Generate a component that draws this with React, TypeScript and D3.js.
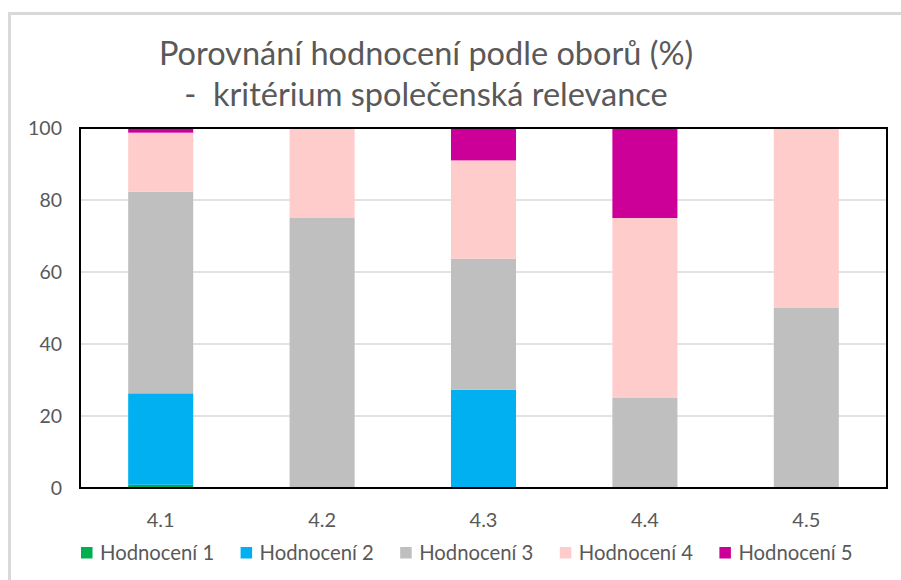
import React from "react";
import * as d3 from "d3";

const categories = ["4.1", "4.2", "4.3", "4.4", "4.5"];
const seriesNames = ["Hodnocení 1", "Hodnocení 2", "Hodnocení 3", "Hodnocení 4", "Hodnocení 5"];
const h1 = [0.9, 0, 0, 0, 0];
const h2 = [25.4, 0, 27.3, 0, 0];
const h3 = [56.0, 75, 36.4, 25, 50];
const h4 = [16.4, 25, 27.3, 50, 50];
const h5 = [1.3, 0, 9.0, 25, 0];
const colors = ["#00b050", "#00b0f0", "#bfbfbf", "#ffcccc", "#cc0099"];
const yTicks = [0, 20, 40, 60, 80, 100];
const titleLines = ["Porovnání hodnocení podle oborů (%)", "-  kritérium společenská relevance"];

const W = 901, H = 580;
const plot = { left: 80, right: 887, top: 128, bottom: 488 };
const FONT = "Lato, 'Open Sans', sans-serif";
const TEXT = "#595959";

export default function App() {
  const seriesValues = [h1, h2, h3, h4, h5];
  const rows = categories.map((c, i) => {
    const r: any = { cat: c };
    seriesNames.forEach((s, k) => (r[s] = seriesValues[k][i]));
    return r;
  });
  const stacked = d3.stack<any>().keys(seriesNames)(rows);
  const p = 0.597;
  const x = d3.scaleBand<string>().domain(categories).range([plot.left, plot.right]).paddingInner(p).paddingOuter(p / 2);
  const y = d3.scaleLinear().domain([0, 100]).range([plot.bottom, plot.top]);

  return (
    <svg width={W} height={H} style={{ position: "absolute", left: 0, top: 0, background: "#fff" }}>
      <rect x={9.5} y={13.5} width={1000} height={1000} fill="#fff" stroke="#d9d9d9" strokeWidth={3} />
      {titleLines.map((t, i) => (
        <text key={i} x={426} y={65 + i * 41} textAnchor="middle" fontFamily={FONT} fontSize={32.5} fill={TEXT} style={{ whiteSpace: "pre" }}>
          {t}
        </text>
      ))}
      {yTicks.filter((t) => t > 0 && t < 100).map((t) => (
        <line key={t} x1={plot.left} x2={plot.right} y1={y(t)} y2={y(t)} stroke="#d9d9d9" strokeWidth={1.5} />
      ))}
      {stacked.map((s, k) => (
        <g key={s.key} fill={colors[k]}>
          {s.map((d, i) => {
            const h = y(d[0]) - y(d[1]);
            if (h <= 0) return null;
            return <rect key={i} x={x(categories[i])} y={y(d[1])} width={x.bandwidth()} height={h} />;
          })}
        </g>
      ))}
      <rect x={plot.left} y={plot.top} width={plot.right - plot.left} height={plot.bottom - plot.top} fill="none" stroke="#000" strokeWidth={2} />
      {yTicks.map((t) => (
        <text key={t} x={62} y={y(t)} dy="0.35em" textAnchor="end" fontFamily={FONT} fontSize={19.5} fill={TEXT}>
          {t}
        </text>
      ))}
      {categories.map((c) => (
        <text key={c} x={(x(c) as number) + x.bandwidth() / 2} y={520} dy="0.35em" textAnchor="middle" fontFamily={FONT} fontSize={20} fill={TEXT}>
          {c}
        </text>
      ))}
      {seriesNames.map((s, k) => {
        const lx = 81 + k * 159.6;
        return (
          <g key={s}>
            <rect x={lx} y={547} width={11.5} height={11.5} fill={colors[k]} />
            <text x={lx + 19} y={553} dy="0.35em" fontFamily={FONT} fontSize={20.3} fill={TEXT}>
              {s}
            </text>
          </g>
        );
      })}
    </svg>
  );
}
